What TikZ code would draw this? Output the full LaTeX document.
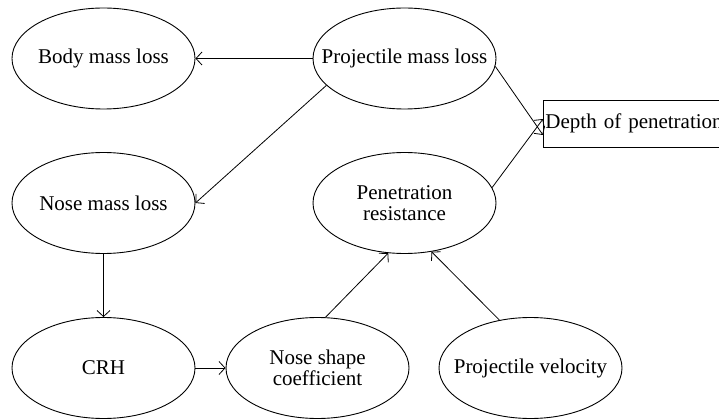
\documentclass[tikz,border=0pt]{standalone}
\usepackage{fontspec}
\setmainfont{Liberation Serif}
\usetikzlibrary{shapes.geometric,arrows.meta}
\begin{document}
\begin{tikzpicture}[x=1pt,y=-1pt,
  oval/.style={ellipse,draw,line width=0.9pt,minimum width=183pt,minimum height=101pt,inner sep=0pt,
    label={[lbl]center:#1}},
  lbl/.style={align=center,inner sep=0pt,font=\fontsize{21}{20.5}\selectfont},
  boxnode/.style={rectangle,draw,line width=0.9pt,minimum height=47pt,inner sep=2pt,anchor=west,
    text width=240pt,align=left,font=\fontsize{21}{20.5}\selectfont},
  arr/.style={line width=0.8pt,-{Straight Barb[length=6pt,width=13pt,line width=0.8pt]}}]
\useasboundingbox (0,0) rectangle (719,419);
\node[oval={Body mass loss}] (bml) at (103.5,58.5) {};
\node[oval={Projectile mass loss}] (pml) at (404.5,58.5) {};
\node[oval={Nose mass loss}] (nml) at (103.5,203) {};
\node[oval={Penetration\\resistance}] (pr) at (404.5,203) {};
\node[oval={CRH}] (crh) at (103.5,368) {};
\node[oval={Nose shape\\coefficient}] (nsc) at (317.5,368) {};
\node[oval={Projectile velocity}] (pv) at (530.5,368) {};
\node[boxnode] (dp) at (543,123.5) {Depth of penetration};
\draw[arr] (pml.west) -- (bml.east);
\draw[arr] (pml.199) -- (nml.east);
\draw[arr] (nml.south) -- (crh.north);
\draw[arr] (crh.east) -- (nsc.west);
\draw[arr] (nsc.81) -- (pr.252);
\draw[arr] (pv.123) -- (pr.299);
\draw[arr] (pml.355) -- ([yshift=-11.5pt]dp.west);
\draw[arr] (pr.10) -- ([yshift=4.5pt]dp.west);
\end{tikzpicture}
\end{document}
